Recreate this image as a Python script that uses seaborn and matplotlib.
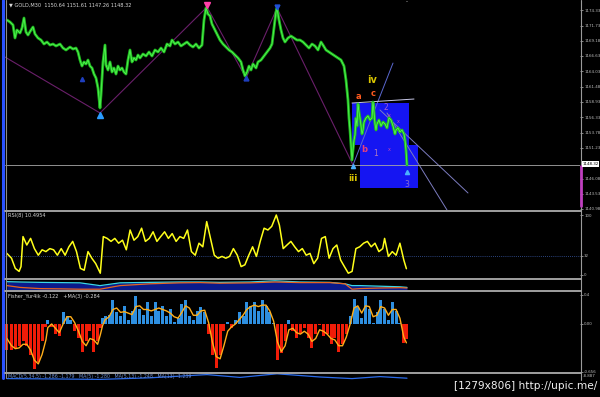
import matplotlib
matplotlib.use("Agg")
import matplotlib.pyplot as plt
import numpy as np
import pandas as pd
import seaborn as sns
from matplotlib.patches import Rectangle

sns.set_style("dark")
plt.rcParams['font.family'] = ['DejaVu Sans']

# ---------------- data ----------------
# bar positions (time axis) and close prices, GOLD M30
bar_pos = [7, 10, 13, 15, 17, 20, 22, 24, 26, 28, 31, 33, 35, 38, 41, 44, 47, 50, 53, 56,
           60, 63, 66, 70, 73, 76, 78, 80, 82, 84, 86, 88, 90, 92, 94, 96, 98, 100, 101, 103,
           105, 106, 108, 110, 112, 114, 116, 118, 120, 122, 124, 126, 128, 130, 132, 134, 136, 138, 140, 143,
           146, 149, 152, 155, 158, 161, 164, 167, 170, 172, 175, 178, 181, 184, 187, 190, 193, 196, 199, 202,
           204, 206, 208, 210, 212, 214, 216, 218, 220, 223, 226, 229, 232, 235, 238, 241, 243, 245, 247, 249,
           251, 253, 256, 258, 261, 264, 267, 270, 272, 274, 276, 277, 279, 281, 283, 285, 288, 291, 294, 297,
           300, 303, 306, 309, 312, 315, 318, 321, 323, 326, 329, 332, 335, 338, 341, 344, 346, 348, 349, 350,
           351, 352, 353, 354, 355, 356, 357, 358, 359, 360, 361, 362, 363, 364, 366, 368, 370, 372, 373, 374,
           375, 376, 377, 379, 381, 383, 385, 387, 389, 391, 393, 395, 396, 398, 400, 402, 404, 405, 406, 407]
close = [1172.65, 1172.32, 1171.82, 1169.64, 1170.98, 1170.48, 1171.31, 1172.99, 1170.64, 1170.14,
         1170.98, 1171.48, 1170.31, 1169.64, 1169.30, 1168.63, 1168.97, 1168.46, 1168.63, 1168.30,
         1168.63, 1167.96, 1167.63, 1168.13, 1167.79, 1167.96, 1167.29, 1165.95, 1164.94, 1165.62,
         1165.28, 1165.95, 1164.94, 1164.61, 1163.60, 1162.93, 1161.26, 1157.91, 1160.08, 1165.62,
         1168.46, 1165.11, 1164.27, 1165.62, 1163.94, 1164.61, 1163.60, 1164.94, 1164.27, 1164.61,
         1163.94, 1163.60, 1165.95, 1167.63, 1165.62, 1166.29, 1165.95, 1166.79, 1166.29, 1166.96,
         1166.62, 1167.29, 1166.62, 1167.63, 1167.29, 1167.96, 1167.29, 1168.63, 1168.30, 1169.30,
         1168.63, 1168.97, 1168.30, 1168.63, 1168.97, 1168.46, 1168.13, 1168.63, 1167.96, 1168.46,
         1172.65, 1174.66, 1173.66, 1173.32, 1171.98, 1171.31, 1170.64, 1169.97, 1169.30, 1168.63,
         1168.13, 1167.63, 1167.29, 1166.79, 1166.29, 1165.62, 1164.27, 1163.27, 1163.94, 1164.94,
         1164.27, 1165.28, 1164.61, 1165.62, 1165.95, 1166.62, 1167.29, 1167.96, 1168.63, 1171.31,
         1174.00, 1174.66, 1172.65, 1170.98, 1169.64, 1168.97, 1169.64, 1169.97, 1169.64, 1169.30,
         1169.30, 1168.97, 1168.46, 1167.96, 1168.63, 1168.30, 1167.63, 1168.97, 1168.46, 1167.63,
         1167.29, 1166.96, 1166.62, 1166.29, 1165.95, 1164.94, 1162.60, 1159.25, 1156.23, 1154.22,
         1151.71, 1149.19, 1150.87, 1152.54, 1153.38, 1156.23, 1154.89, 1158.58, 1157.24, 1156.23,
         1154.89, 1153.55, 1154.22, 1155.56, 1156.23, 1156.57, 1155.90, 1156.23, 1158.91, 1157.24,
         1155.23, 1154.22, 1155.23, 1155.90, 1154.89, 1155.56, 1155.23, 1154.56, 1156.23, 1155.90,
         1154.89, 1153.55, 1154.22, 1154.56, 1153.89, 1154.22, 1153.55, 1152.54, 1150.87, 1148.35]

price_ticks = [1174.33, 1171.73, 1169.18, 1166.63, 1164.03, 1161.48, 1158.93,
               1156.33, 1153.78, 1151.23, 1146.08, 1143.53, 1140.98]
last_price = 1148.32

# zigzag swing points
zz_pos = [5, 100, 207, 246, 277, 353]
zz_price = [1166.45, 1157.07, 1174.83, 1162.93, 1174.66, 1148.35]

# RSI(8)
rsi_pos = [6.9, 11.5, 15.3, 19.1, 21.0, 23.0, 26.8, 30.6, 34.4, 38.3,
           42.1, 45.9, 49.8, 53.6, 57.4, 61.2, 65.1, 68.9, 72.7, 76.5,
           80.4, 84.2, 88.0, 91.8, 95.7, 100.3, 103.3, 107.2, 111.0, 114.8,
           118.6, 122.5, 126.3, 130.1, 134.0, 137.8, 141.6, 145.4, 149.3, 153.1,
           156.9, 160.7, 164.6, 168.4, 172.2, 176.1, 179.9, 183.7, 187.5, 191.4,
           195.2, 199.0, 202.8, 206.7, 210.5, 214.3, 218.1, 222.0, 225.8, 229.6,
           233.4, 237.3, 241.1, 244.9, 248.8, 252.6, 256.4, 260.2, 264.1, 267.9,
           271.7, 276.3, 279.4, 283.2, 287.0, 290.9, 294.7, 298.5, 302.3, 306.2,
           310.0, 313.8, 317.6, 321.5, 325.3, 329.1, 333.0, 336.8, 340.6, 344.4,
           348.3, 352.1, 355.9, 359.7, 363.6, 367.4, 371.2, 375.0, 378.9, 382.7,
           384.6, 388.4, 392.3, 396.1, 399.9, 403.8, 406.4]
rsi = [36, 28, 11, 6, 14, 64, 50, 61, 44, 33,
       42, 39, 44, 42, 33, 44, 33, 47, 56, 39,
       11, 8, 39, 28, 19, 3, 64, 61, 56, 61,
       53, 58, 42, 75, 58, 64, 78, 56, 61, 72,
       56, 64, 72, 61, 69, 56, 64, 61, 75, 39,
       33, 53, 47, 89, 61, 33, 28, 31, 28, 31,
       44, 33, 14, 17, 33, 47, 31, 56, 78, 75,
       81, 100, 83, 44, 50, 56, 47, 39, 44, 33,
       36, 19, 28, 61, 64, 28, 44, 50, 25, 14,
       3, 6, 44, 47, 53, 56, 47, 53, 39, 44,
       61, 31, 39, 33, 53, 25, 10.5]

# small band indicator
band_pos = [7, 20, 40, 60, 80, 100, 120, 150, 180, 200, 220, 250, 275, 300, 330, 345, 352, 360, 380, 400, 407]
band_cyan = [0.78, 0.75, 0.72, 0.70, 0.68, 0.45, 0.68, 0.72, 0.75, 0.75, 0.72, 0.75, 0.85, 0.75, 0.72,
             0.60, 0.45, 0.45, 0.40, 0.35, 0.30]
band_orange = [0.45, 0.30, 0.20, 0.18, 0.15, 0.15, 0.45, 0.60, 0.68, 0.70, 0.65, 0.68, 0.75, 0.70, 0.70,
               0.60, 0.15, 0.20, 0.25, 0.28, 0.25]

# Fisher_Yur4ik histogram and MA(3) signal
fish_pos = [6.9, 11.5, 15.3, 19.1, 23.0, 26.8, 30.6, 34.4, 38.3, 42.1, 45.9, 47.8, 51.7, 55.5, 59.3, 63.1, 67.0,
            70.8, 74.6, 78.5, 82.3, 86.1, 89.9, 93.8, 97.6, 100.3, 102.6, 105.2, 109.1,
            112.9, 116.7, 120.6, 124.4, 128.2, 132.0, 135.9, 139.7, 143.5, 147.3, 151.2,
            155.0, 158.8, 162.6, 166.5, 170.3, 174.1, 178.0, 181.8, 185.6, 189.4, 193.3,
            197.1, 200.9, 204.7, 208.6, 212.4, 216.2, 220.1, 223.9, 227.7, 231.5, 235.4,
            239.2, 243.0, 246.8, 250.7, 254.5, 258.3, 262.2, 266.0, 269.8, 273.6, 277.5,
            281.3, 285.1, 288.9, 292.8, 296.6, 300.4, 304.3, 308.1, 311.9, 315.7, 319.6,
            323.4, 327.2, 331.0, 334.9, 338.7, 342.5, 346.3, 350.2, 354.0, 357.8, 361.7,
            365.5, 369.3, 373.1, 377.0, 380.8, 384.6, 388.4, 392.3, 396.1, 399.9, 403.8, 406.4]
fisher = [-0.36, -0.36, -0.33, -0.31, -0.23, -0.31, -0.43, -0.62, -0.53, -0.23,
          -0.04, 0.06, -0.04, -0.14, -0.16, 0.16, 0.11, 0.06, -0.09, -0.19,
          -0.38, -0.23, -0.09, -0.38, -0.23, -0.06, 0.08, 0.11, 0.13, 0.33,
          0.16, 0.11, 0.25, 0.06, 0.18, 0.38, 0.20, 0.13, 0.30, 0.11,
          0.30, 0.18, 0.25, 0.11, 0.20, 0.03, 0.08, 0.28, 0.33, 0.11,
          0.06, 0.18, 0.23, 0.16, -0.14, -0.43, -0.60, -0.43, -0.09, 0.03,
          -0.06, 0.06, 0.16, 0.11, 0.30, 0.25, 0.30, 0.18, 0.33, 0.25,
          0.16, 0.01, -0.50, -0.40, -0.23, 0.06, -0.09, -0.19, -0.14, -0.06,
          -0.19, -0.33, -0.14, -0.01, -0.16, -0.14, -0.28, -0.19, -0.38, -0.28,
          -0.14, 0.11, 0.35, 0.23, 0.08, 0.38, 0.20, 0.01, 0.16, 0.33,
          0.20, 0.06, 0.30, 0.18, 0.01, -0.26, -0.21]
fisher_ma = [-0.20, -0.30, -0.34, -0.33, -0.28, -0.28, -0.36, -0.50, -0.55, -0.42,
             -0.22, -0.05, 0.00, -0.06, -0.12, 0.00, 0.10, 0.10, 0.02, -0.10,
             -0.24, -0.30, -0.20, -0.22, -0.28, -0.15, -0.02, 0.06, 0.10, 0.20,
             0.22, 0.16, 0.17, 0.15, 0.13, 0.24, 0.25, 0.20, 0.20, 0.18,
             0.20, 0.22, 0.20, 0.18, 0.15, 0.10, 0.08, 0.16, 0.25, 0.22,
             0.12, 0.12, 0.18, 0.19, 0.02, -0.25, -0.45, -0.48, -0.30, -0.10,
             -0.04, 0.00, 0.06, 0.12, 0.20, 0.24, 0.26, 0.24, 0.26, 0.26,
             0.18, 0.04, -0.25, -0.38, -0.30, -0.08, -0.06, -0.12, -0.14, -0.10,
             -0.14, -0.24, -0.20, -0.08, -0.10, -0.14, -0.20, -0.22, -0.30, -0.30,
             -0.18, 0.00, 0.22, 0.25, 0.15, 0.25, 0.24, 0.10, 0.12, 0.24,
             0.22, 0.12, 0.20, 0.20, 0.08, -0.18, -0.26]

# MACD strip (partly visible)
macd_pos = [7, 60, 100, 150, 207, 240, 277, 320, 352, 380, 407]
macd = [0.30, 0.25, 0.20, 0.40, 0.80, 0.45, 0.90, 0.50, 0.30, 0.55, 0.35]

# ---------------- figure ----------------
W, H = 600, 397
fig = plt.figure(figsize=(6, 3.97), dpi=100, facecolor='black')
TICK_FS = 2.9


def px_axes(x0, y0, x1, y1, z=1):
    a = fig.add_axes([x0 / W, 1 - y1 / H, (x1 - x0) / W, (y1 - y0) / H], zorder=z)
    a.set_facecolor('black')
    for s in a.spines.values():
        s.set_visible(False)
    a.set_xticks([])
    a.set_yticks([])
    a.grid(False)
    return a


def right_ticks(a, ticks, labels):
    a.yaxis.tick_right()
    a.set_yticks(ticks)
    a.set_yticklabels(labels)
    a.tick_params(axis='y', colors='#bcbcbc', labelsize=TICK_FS, length=1.8, width=0.5, pad=1.2)


# ---- main price panel ----
ax = px_axes(5, 0, 580, 211)
ax.set_xlim(5, 580)
ax.set_ylim(1140.64, 1176.01)

ax.add_patch(Rectangle((352, 1151.71), 57, 1158.74 - 1151.71, color='#1515f2', zorder=1, lw=0))
ax.add_patch(Rectangle((360, 1144.50), 58, 1151.71 - 1144.50, color='#1515f2', zorder=1, lw=0))

ax.plot([353, 393], [1148.35, 1165.44], color='#5a68d0', lw=0.7, zorder=2)
ax.plot([352, 414], [1158.74, 1159.41], color='#c8c8e8', lw=0.7, zorder=2)
ax.plot([380, 468], [1157.57, 1143.66], color='#7c7cc0', lw=0.7, zorder=2)
ax.plot([387, 447], [1157.07, 1140.81], color='#7c7cc0', lw=0.7, zorder=2)

ax.axhline(last_price, color='#a8a8a8', lw=0.6, zorder=2)

zz = pd.DataFrame({'t': zz_pos, 'p': zz_price})
sns.lineplot(data=zz, x='t', y='p', ax=ax, color='#6a1f6a', lw=0.8, sort=False,
             estimator=None, zorder=2)

pr = pd.DataFrame({'t': bar_pos, 'p': close})
sns.lineplot(data=pr, x='t', y='p', ax=ax, color='#1fb81f', lw=2.0, estimator=None, zorder=3)
sns.lineplot(data=pr, x='t', y='p', ax=ax, color='#5cff5c', lw=0.5, estimator=None, zorder=4)
ax.set_xlabel('')
ax.set_ylabel('')
ax.set_xticks([])
right_ticks(ax, price_ticks, [f"{v:.2f}" for v in price_ticks])

# swing markers
ax.plot([100], [1156.75], marker='^', color='#2a9cff', ms=4, zorder=5)
ax.plot([82], [1162.76], marker='^', color='#1f3fc0', ms=3, zorder=5)
ax.plot([246], [1162.95], marker='^', color='#1f3fc0', ms=3.5, zorder=5)
ax.plot([277], [1174.90], marker='v', color='#2050d8', ms=3.5, zorder=5)
ax.plot([207], [1175.10], marker='v', color='#ff3fa8', ms=4, zorder=5)
ax.plot([353], [1148.10], marker='^', color='#4ab0ff', ms=3, zorder=5)
ax.plot([407], [1147.20], marker='^', color='#4ab0ff', ms=3, zorder=5)

# wave labels
ax.text(372, 1162.60, 'iv', color='#d8c400', fontsize=7, fontweight='bold', ha='center', va='center', zorder=6)
ax.text(353, 1146.17, 'iii', color='#d8c400', fontsize=6.5, fontweight='bold', ha='center', va='center', zorder=6)
ax.text(358, 1159.75, 'a', color='#ff5a1e', fontsize=6, fontweight='bold', ha='center', va='center', zorder=6)
ax.text(373, 1160.42, 'c', color='#ff5a1e', fontsize=6, fontweight='bold', ha='center', va='center', zorder=6)
ax.text(364, 1151.03, 'b', color='#e8407a', fontsize=6, fontweight='bold', ha='center', va='center', zorder=6)
ax.text(376, 1150.20, '1', color='#b07cc0', fontsize=5.5, ha='center', va='center', zorder=6)
ax.text(386, 1158.07, '2', color='#a060d8', fontsize=5.5, ha='center', va='center', zorder=6)
ax.text(407, 1145.00, '3', color='#8a70d0', fontsize=5.5, ha='center', va='center', zorder=6)
for (tx, ty) in [(389, 1156.57), (398, 1155.56), (389, 1151.03)]:
    ax.text(tx, ty, 'x', color='#c040c0', fontsize=3.5, ha='center', va='center', zorder=6)

# ---- RSI panel ----
ar = px_axes(5, 212, 580, 278)
ar.set_xlim(5, 580)
ar.set_ylim(-5, 105)
ar.axhline(32, color='#3a5aa8', lw=0.6, ls=(0, (1, 1.5)), zorder=1)
rd = pd.DataFrame({'t': rsi_pos, 'v': rsi})
sns.lineplot(data=rd, x='t', y='v', ax=ar, color='#ffff1a', lw=1.1, estimator=None, zorder=3)
ar.set_xlabel('')
ar.set_ylabel('')
ar.set_xticks([])
right_ticks(ar, [100, 32, 0], ['100', '32', '0'])

# ---- small band panel ----
ab = px_axes(5, 279, 580, 291)
ab.set_xlim(5, 580)
ab.set_ylim(0, 1)
ab.fill_between(band_pos, 0, band_cyan, color='#0a1a8c', lw=0, zorder=1)
sns.lineplot(x=band_pos, y=band_cyan, ax=ab, color='#3ad6e8', lw=0.9, estimator=None, zorder=3)
sns.lineplot(x=band_pos, y=band_orange, ax=ab, color='#e8641e', lw=0.9, estimator=None, zorder=3)
ab.set_xticks([])
ab.set_yticks([])

# ---- Fisher panel ----
af = px_axes(5, 292, 580, 372)
af.set_xlim(5, 580)
af.set_ylim(-0.662, 0.441)
fcol = ['#2e8fe0' if v >= 0 else '#f01c08' for v in fisher]
af.bar(fish_pos, fisher, width=3.0, color=fcol, lw=0, zorder=2)
fd = pd.DataFrame({'t': fish_pos, 'v': fisher_ma})
sns.lineplot(data=fd, x='t', y='v', ax=af, color='#ffae1a', lw=1.0, estimator=None, zorder=3)
af.set_xlabel('')
af.set_ylabel('')
af.set_xticks([])
right_ticks(af, [0.4, 0.0, -0.656], ['0.4', '0.00', '-0.656'])

# ---- MACD strip ----
am = px_axes(5, 373, 580, 381)
am.set_xlim(5, 580)
am.set_ylim(0, 1)
sns.lineplot(x=macd_pos, y=macd, ax=am, color='#2a6ae8', lw=0.9, estimator=None)
am.set_xticks([])
am.set_yticks([])

# ---- frame / overlay ----
ov = fig.add_axes([0, 0, 1, 1], zorder=20)
ov.set_xlim(0, W)
ov.set_ylim(H, 0)
ov.axis('off')
ov.patch.set_alpha(0)

ov.plot([2.5, 2.5], [0, 378], color='#2a52ff', lw=2.2)
ov.plot([5.5, 5.5], [0, 378], color='#8c8c8c', lw=0.8)
ov.plot([580.5, 580.5], [0, 380], color='#9a9a9a', lw=0.8)
for yy in [211, 278.5, 291, 372.5]:
    ov.plot([5, 580.5], [yy, yy], color='#a0a0a0', lw=1.4)
ov.plot([580.8, 580.8], [166, 206], color='#c040c0', lw=2)

ov.text(582.5, 164, f"{last_price:.2f}", color='black', fontsize=TICK_FS, va='center', ha='left',
        bbox=dict(facecolor='white', edgecolor='none', pad=0.5))
ov.text(583, 376, '-8.887', color='#bcbcbc', fontsize=TICK_FS, va='center', ha='left')

ov.text(9, 5, '\u25bc GOLD,M30  1150.64 1151.61 1147.26 1148.32', color='#d8d8d8', fontsize=3.6, va='center')
ov.text(8, 215.5, 'RSI(8) 10.4954', color='#d8d8d8', fontsize=3.6, va='center')
ov.text(8, 296, 'Fisher_Yur4ik -0.122   +MA(3) -0.284', color='#d8d8d8', fontsize=3.6, va='center')
ov.text(8, 376.5, 'MACD(5,34,5) -1.286 -1.179   MA(5) -1.280   MA(5,13) -1.248   MA(13) -1.239',
        color='#6a8acc', fontsize=3.4, va='center')
ov.text(407, 2, '-', color='#e0e0e0', fontsize=4, ha='center', va='center')

ov.text(597, 386, '[1279x806] http://upic.me/', color='#f0f0f0', fontsize=7.6, va='center', ha='right')

fig.savefig('out.png', dpi=100, facecolor='black')
